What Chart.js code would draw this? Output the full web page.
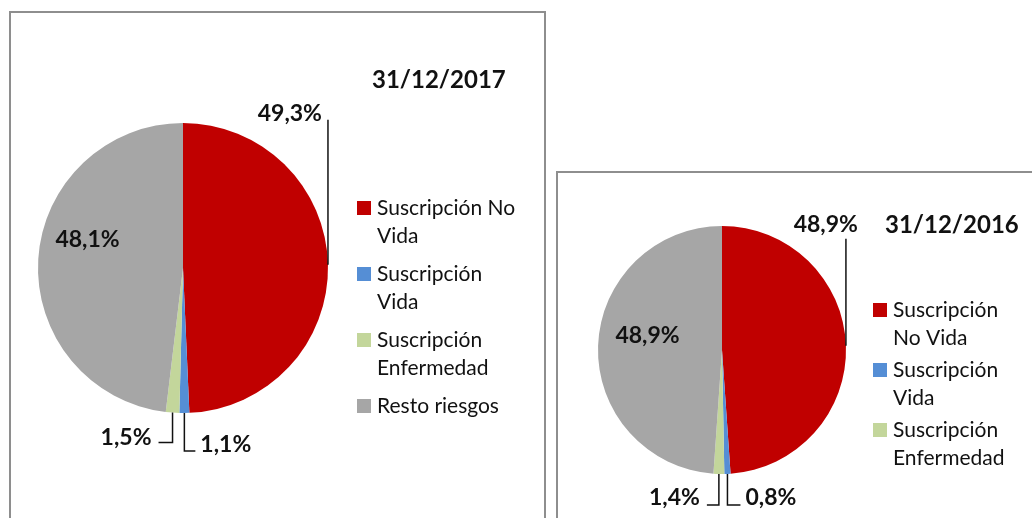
<!DOCTYPE html>
<html lang="es">
<head>
<meta charset="utf-8">
<script src="https://cdn.jsdelivr.net/npm/chart.js@4.4.1/dist/chart.umd.min.js"></script>
<style>
  html, body { margin: 0; padding: 0; background: #fff; }
  body { width: 1032px; height: 518px; position: relative; overflow: hidden; }
  .box { position: absolute; box-sizing: border-box; border: 2px solid #8e8e8e; background: #fff; }
  canvas { position: absolute; left: 0; top: 0; }
</style>
</head>
<body>
<div class="box" style="left:9px;top:11px;width:537px;height:600px"></div>
<div class="box" style="left:556px;top:171px;width:600px;height:400px"></div>
<canvas id="chart2017" width="1032" height="518"></canvas>
<canvas id="chart2016" width="1032" height="518"></canvas>
<script>
const categories = ["Suscripción No Vida", "Suscripción Vida", "Suscripción Enfermedad", "Resto riesgos"];
const values2017 = [49.3, 1.1, 1.5, 48.1];
const values2016 = [48.9, 0.8, 1.4, 48.9];
const sliceColors = ["#c00000", "#558ed5", "#c3d69b", "#a6a6a6"];
const titles = ["31/12/2017", "31/12/2016"];

const fmt = v => v.toFixed(1).replace(".", ",") + "%";

function wrapText(ctx, text, maxW) {
  const lines = [];
  let line = "";
  text.split(" ").forEach(w => {
    const t = line ? line + " " + w : w;
    if (line && ctx.measureText(t).width > maxW) {
      lines.push(line);
      line = w;
    } else {
      line = t;
    }
  });
  lines.push(line);
  return lines;
}

// data labels with leader lines, title and legend, all drawn from the chart
const pieExtras = {
  id: "pieExtras",
  afterDatasetsDraw(chart, args, opts) {
    const ctx = chart.ctx;
    const ds = chart.data.datasets[0];
    const meta = chart.getDatasetMeta(0);
    ctx.save();
    ctx.fillStyle = "#111";
    ctx.strokeStyle = "#111";
    ctx.lineWidth = 1.5;
    ctx.textBaseline = "alphabetic";

    ctx.font = "bold 23px Lato";
    meta.data.forEach((arc, i) => {
      const p = arc.getProps(["x", "y", "startAngle", "endAngle", "outerRadius"], true);
      const mid = (p.startAngle + p.endAngle) / 2;
      const ex = p.x + Math.cos(mid) * p.outerRadius;
      const ey = p.y + Math.sin(mid) * p.outerRadius;
      const lay = opts.labels[i];
      let ax, ay;
      if (lay.inside) {
        ax = p.x + lay.dx;
        ay = p.y + lay.dy;
      } else {
        let x = ex, y = ey;
        ctx.beginPath();
        ctx.moveTo(ex, ey);
        lay.leader.forEach(([dx, dy]) => {
          x = ex + dx;
          y = ey + dy;
          ctx.lineTo(x, y);
        });
        ctx.stroke();
        ax = x + lay.dx;
        ay = y + lay.dy;
      }
      ctx.textAlign = lay.align;
      ctx.fillText(fmt(ds.data[i]), ax, ay);
    });

    // title
    ctx.font = "bold 24px Lato";
    ctx.textAlign = "left";
    ctx.fillText(opts.title.text, opts.title.x, opts.title.y);

    // legend
    const lg = opts.legend;
    ctx.font = "21px Lato";
    let base = lg.y;
    chart.data.labels.slice(0, lg.maxItems).forEach((label, i) => {
      ctx.fillStyle = ds.backgroundColor[i];
      ctx.fillRect(lg.x, base - lg.box, lg.box, lg.box);
      ctx.fillStyle = "#111";
      const lines = wrapText(ctx, label, lg.maxW);
      lines.forEach((ln, k) => ctx.fillText(ln, lg.textX, base + k * lg.lineH));
      base += lines.length * lg.lineH + lg.gap;
    });
    ctx.restore();
  }
};

function makePie(id, values, padding, extras) {
  return new Chart(document.getElementById(id), {
    type: "pie",
    data: {
      labels: categories,
      datasets: [{ data: values, backgroundColor: sliceColors, borderWidth: 0 }]
    },
    options: {
      responsive: false,
      animation: false,
      layout: { padding },
      plugins: {
        legend: { display: false },
        tooltip: { enabled: false },
        pieExtras: extras
      }
    },
    plugins: [pieExtras]
  });
}

makePie("chart2017", values2017, { left: 38, right: 704, top: 123, bottom: 105 }, {
  labels: [
    { leader: [[0, -145]], dx: -6, dy: 1, align: "right" },
    { leader: [[0, 38], [11, 38]], dx: 5, dy: 1, align: "left" },
    { leader: [[0, 30], [-14, 30]], dx: -7, dy: 2, align: "right" },
    { inside: true, dx: -95.5, dy: -21, align: "center" }
  ],
  title: { text: titles[0], x: 372, y: 88 },
  legend: { x: 357, textX: 377, y: 215, box: 14, lineH: 28, gap: 10, maxW: 150, maxItems: 4 }
});

makePie("chart2016", values2016, { left: 598, right: 186, top: 226, bottom: 44 }, {
  labels: [
    { leader: [[0, -107]], dx: 12, dy: -7, align: "right" },
    { leader: [[0, 31], [13, 31]], dx: 5, dy: 0, align: "left" },
    { leader: [[0, 31], [-12, 31]], dx: -7, dy: 0, align: "right" },
    { inside: true, dx: -74.5, dy: -7, align: "center" }
  ],
  title: { text: titles[1], x: 885, y: 233 },
  legend: { x: 873, textX: 893, y: 317, box: 14, lineH: 28, gap: 4, maxW: 120, maxItems: 3 }
});
</script>
</body>
</html>
